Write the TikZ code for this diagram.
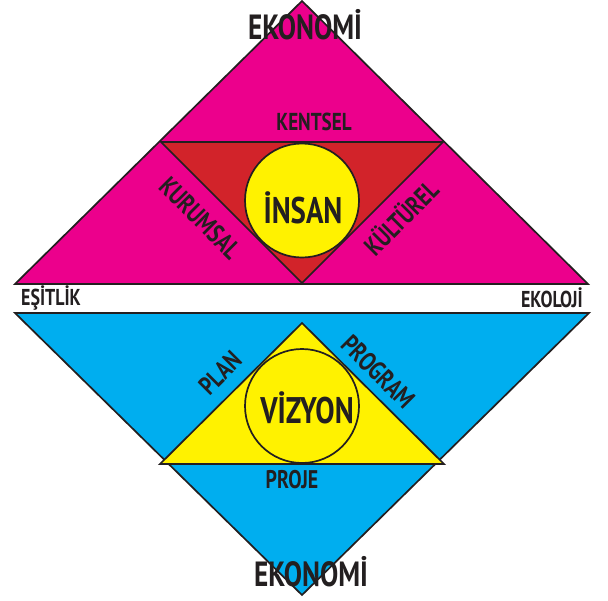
\documentclass[tikz,border=0pt]{standalone}
\usepackage{fontspec}
\newfontfamily\lblfont{PT Sans}[FakeStretch=0.78]
\begin{document}
\definecolor{ink}{HTML}{231F20}
\definecolor{mag}{HTML}{EC008C}
\definecolor{redf}{HTML}{D2232A}
\definecolor{yel}{HTML}{FFF200}
\definecolor{cya}{HTML}{00AEEF}
\begin{tikzpicture}[x=1pt,y=-1pt,
  shp/.style={draw=ink,line width=1.7pt,line join=miter},
  lbl/.style={text=ink,font=\lblfont\bfseries\fontsize{#1}{#1}\selectfont,inner sep=0pt,anchor=center},
  lbl/.default=24]
\useasboundingbox (0,0) rectangle (608,600);
% coordinates
\coordinate (tA) at (302,1);
\coordinate (tL) at (15,284);
\coordinate (tR) at (588,284);
\coordinate (rL) at (161,142);
\coordinate (rR) at (443,142);
\coordinate (rB) at (302,283);
\coordinate (bL) at (15,313);
\coordinate (bR) at (589,313);
\coordinate (bA) at (302,595);
\coordinate (yA) at (302,323);
\coordinate (yL) at (160,464);
\coordinate (yR) at (444,464);
% top part
\fill[mag] (tA) -- (tR) -- (tL) -- cycle;
\draw[shp,fill=redf] (rL) -- (rR) -- (rB) -- cycle;
\draw[shp] (tA) -- (tR) -- (tL) -- cycle;
\draw[shp,fill=yel] (302,200.5) circle[radius=57];
% bottom part
\fill[cya] (bL) -- (bR) -- (bA) -- cycle;
\draw[shp] (bL) -- (bR) -- (bA) -- cycle;
\draw[shp,fill=yel] (yA) -- (yR) -- (yL) -- cycle;
\draw[shp,fill=yel] (302,406) circle[radius=57];
% labels
\node[lbl=35] (eko1) at (305,25) {EKONOMİ};
\node[lbl=24.5] (kentsel) at (314,122) {KENTSEL};
\node[lbl=37] (insan) at (303,208) {İNSAN};
\node[lbl=26.5,rotate=-45] (kurumsal) at (200,218) {KURUMSAL};
\node[lbl=26.5,rotate=45] (kulturel) at (400,217) {KÜLTÜREL};
\node[lbl=23,anchor=west] (esitlik) at (21,298) {EŞİTLİK};
\node[lbl=23,anchor=east] (ekoloji) at (583,298) {EKOLOJİ};
\node[lbl=26,rotate=45] (plan) at (220,373) {PLAN};
\node[lbl=26.5,rotate=-45] (program) at (378,372) {PROGRAM};
\node[lbl=37] (vizyon) at (307,408) {VİZYON};
\node[lbl=25.5] (proje) at (292,480) {PROJE};
\node[lbl=35] (eko2) at (311,572) {EKONOMİ};
\end{tikzpicture}
\end{document}
